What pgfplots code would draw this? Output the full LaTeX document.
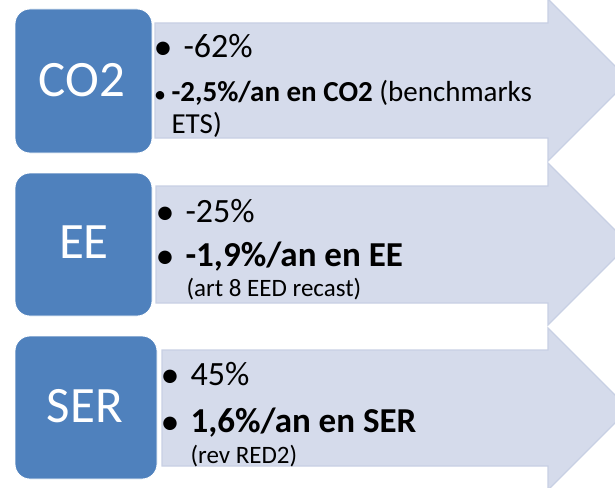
\documentclass[border=0pt]{standalone}
\usepackage{pgfplots}
\pgfplotsset{compat=1.18}
\usepackage{fontspec}
\setmainfont{Carlito}
\definecolor{boxblue}{RGB}{79,129,189}
\definecolor{arrowfill}{RGB}{213,219,235}
\definecolor{arrowline}{RGB}{200,208,228}

\newcommand{\fs}[1]{\fontsize{#1}{#1}\selectfont}

\begin{document}
\begin{tikzpicture}
\useasboundingbox (0,0) rectangle (615pt,487pt);
\begin{axis}[
    at={(0,0)}, anchor=south west,
    width=615pt, height=487pt,
    scale only axis,
    xmin=0, xmax=615, ymin=0, ymax=487,
    y dir=reverse,
    hide axis,
    every node/.style={inner sep=0pt, outer sep=0pt},
]
% arrows
\addplot[fill=arrowfill, draw=arrowline, line width=1.2pt] coordinates {
    (155,23) (548,23) (548,-1) (629,80) (548,161) (548,138) (155,138)} -- cycle;
\addplot[fill=arrowfill, draw=arrowline, line width=1.2pt] coordinates {
    (156,186) (548,186) (548,163) (629,244) (548,325) (548,303) (156,303)} -- cycle;
\addplot[fill=arrowfill, draw=arrowline, line width=1.2pt] coordinates {
    (162,350) (548,350) (548,328) (629,409) (548,490) (548,466) (162,466)} -- cycle;

% rounded squares
\addplot[fill=boxblue, draw=white, line width=0.8pt, rounded corners=15pt] coordinates {
    (15,9) (152,9) (152,153) (15,153)} -- cycle;
\addplot[fill=boxblue, draw=white, line width=0.8pt, rounded corners=15pt] coordinates {
    (15,173) (152,173) (152,316) (15,316)} -- cycle;
\addplot[fill=boxblue, draw=white, line width=0.8pt, rounded corners=15pt] coordinates {
    (15,336) (157,336) (157,479) (15,479)} -- cycle;

% labels
\node[text=white, font=\fs{51}] at (axis cs:82,80) {CO2};
\node[text=white, font=\fs{51}] at (axis cs:84,242) {EE};
\node[text=white, font=\fs{51}] at (axis cs:85,406) {SER};

% row 1
\node[anchor=base, font=\fs{38}] at (axis cs:163,59) {•};
\node[anchor=base west, font=\fs{34}] at (axis cs:180,57) {-62\%};
\node[anchor=base, font=\fs{24}] at (axis cs:160,102) {•};
\node[anchor=base west, font=\fs{29}] at (axis cs:168,101) {\textbf{-2,5\%/an en CO2} (benchmarks};
\node[anchor=base west, font=\fs{29}] at (axis cs:168,133) {ETS)};

% row 2
\node[anchor=base, font=\fs{38}] at (axis cs:165,224) {•};
\node[anchor=base west, font=\fs{34}] at (axis cs:182,222) {-25\%};
\node[anchor=base, font=\fs{38}] at (axis cs:165,268) {•};
\node[anchor=base west, font=\fs{35}] at (axis cs:182,266) {\textbf{-1,9\%/an en EE}};
\node[anchor=base west, font=\fs{25}] at (axis cs:183,296) {(art 8 EED recast)};

% row 3
\node[anchor=base, font=\fs{38}] at (axis cs:170,387) {•};
\node[anchor=base west, font=\fs{34}] at (axis cs:187,385) {45\%};
\node[anchor=base, font=\fs{38}] at (axis cs:170,434) {•};
\node[anchor=base west, font=\fs{35}] at (axis cs:187,432) {\textbf{1,6\%/an en SER}};
\node[anchor=base west, font=\fs{25}] at (axis cs:187,463) {(rev RED2)};
\end{axis}
\end{tikzpicture}
\end{document}
